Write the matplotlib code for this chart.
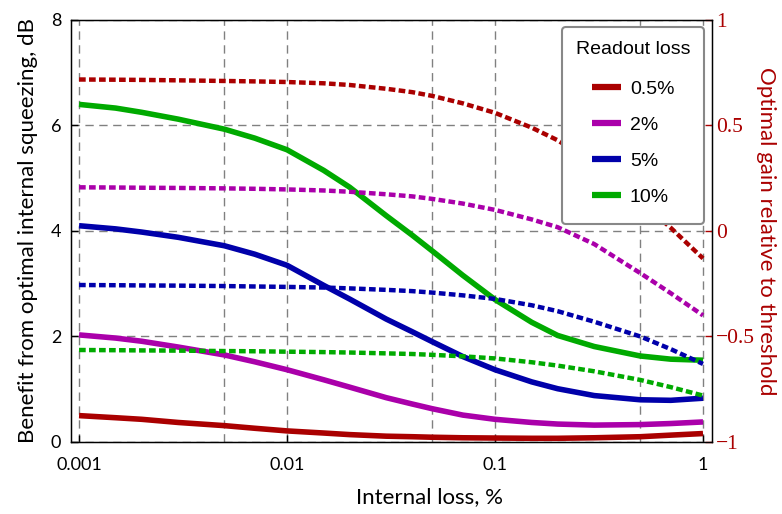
import matplotlib
matplotlib.use("Agg")
import matplotlib.pyplot as plt
from matplotlib.ticker import FixedLocator, NullFormatter, FixedFormatter

# internal loss, % (x axis, log scale)
loss = [0.001, 0.0015, 0.002, 0.003, 0.005, 0.007, 0.01, 0.015, 0.02, 0.03,
        0.04, 0.05, 0.07, 0.1, 0.15, 0.2, 0.3, 0.5, 0.7, 1.0]

# benefit from optimal internal squeezing, dB (left axis, solid)
benefit_05 = [0.50, 0.46, 0.43, 0.37, 0.31, 0.26, 0.21, 0.17, 0.14, 0.11,
              0.10, 0.09, 0.08, 0.075, 0.07, 0.07, 0.08, 0.10, 0.13, 0.16]
benefit_2 = [2.03, 1.97, 1.91, 1.80, 1.65, 1.52, 1.37, 1.18, 1.04, 0.84,
             0.72, 0.63, 0.51, 0.43, 0.37, 0.34, 0.32, 0.33, 0.35, 0.38]
benefit_5 = [4.10, 4.04, 3.98, 3.88, 3.72, 3.56, 3.35, 2.97, 2.71, 2.33,
             2.09, 1.90, 1.62, 1.37, 1.14, 1.01, 0.88, 0.80, 0.79, 0.83]
benefit_10 = [6.40, 6.33, 6.25, 6.12, 5.93, 5.76, 5.54, 5.15, 4.83, 4.29,
              3.92, 3.62, 3.16, 2.70, 2.27, 2.02, 1.81, 1.63, 1.57, 1.55]

# optimal gain relative to threshold (right axis, dashed)
gain_05 = [0.718, 0.717, 0.716, 0.714, 0.711, 0.709, 0.706, 0.700, 0.692, 0.674,
           0.658, 0.640, 0.605, 0.560, 0.490, 0.430, 0.320, 0.140, 0.015, -0.130]
gain_2 = [0.207, 0.206, 0.205, 0.204, 0.202, 0.200, 0.197, 0.192, 0.186, 0.174,
          0.164, 0.152, 0.130, 0.100, 0.055, 0.018, -0.062, -0.200, -0.295, -0.400]
gain_5 = [-0.256, -0.257, -0.258, -0.259, -0.261, -0.263, -0.265, -0.268, -0.272, -0.279,
          -0.285, -0.292, -0.305, -0.322, -0.352, -0.380, -0.430, -0.500, -0.560, -0.630]
gain_10 = [-0.564, -0.565, -0.566, -0.567, -0.569, -0.570, -0.572, -0.574, -0.576, -0.580,
           -0.583, -0.587, -0.594, -0.604, -0.622, -0.638, -0.665, -0.706, -0.740, -0.780]

readout = ['0.5%', '2%', '5%', '10%']
colors = ['#aa0000', '#aa00aa', '#0000aa', '#00aa00']
benefits = [benefit_05, benefit_2, benefit_5, benefit_10]
gains = [gain_05, gain_2, gain_5, gain_10]

sans = 'Lato'
red = '#aa0000'

fig = plt.figure(figsize=(7.82, 5.14), dpi=100)
ax = fig.add_axes([0.0908, 0.1401, 0.8197, 0.8210])
ax2 = ax.twinx()

handles = []
for b, c, lab in zip(benefits, colors, readout):
    h, = ax.plot(loss, b, color=c, lw=4.0, solid_capstyle='butt',
                 solid_joinstyle='round', label=lab)
    handles.append(h)
for g, c in zip(gains, colors):
    ax2.plot(loss, g, color=c, lw=3.2, dashes=(1.5, 0.75), dash_capstyle='butt')

ax.set_xscale('log')
ax.set_xlim(0.000915, 1.105)
ax.set_ylim(0, 8)
ax2.set_ylim(-1, 1)

ax.xaxis.set_major_locator(FixedLocator([0.001, 0.01, 0.1, 1]))
ax.xaxis.set_major_formatter(FixedFormatter(['0.001', '0.01', '0.1', '1']))
ax.xaxis.set_minor_locator(FixedLocator([0.005, 0.05, 0.5]))
ax.xaxis.set_minor_formatter(NullFormatter())
ax.set_yticks([0, 2, 4, 6, 8])
ax2.set_yticks([-1, -0.5, 0, 0.5, 1])
ax2.set_yticklabels(['\u22121', '\u22120.5', '0', '0.5', '1'])

ax.grid(True, which='both', axis='x', color='#808080', lw=1.0, dashes=(6, 4))
ax.grid(True, which='major', axis='y', color='#808080', lw=1.0, dashes=(6, 4))
ax.set_axisbelow(True)

ax.tick_params(axis='x', which='major', direction='in', length=5, width=1,
               labelsize=13, pad=11, top=False)
ax.tick_params(axis='x', which='minor', length=0)
ax.tick_params(axis='y', direction='in', length=5, width=1, labelsize=13, pad=7)
ax2.tick_params(axis='y', direction='in', length=5, width=1, color=red,
                labelcolor=red, labelsize=15.5, pad=3)
for t in ax.get_xticklabels() + ax.get_yticklabels():
    t.set_family(sans)
for t in ax2.get_yticklabels():
    t.set_family('Liberation Serif')

ax.set_xlabel('Internal loss, %', fontsize=16, family=sans)
ax.xaxis.set_label_coords(0.559, -0.107)
ax.set_ylabel('Benefit from optimal internal squeezing, dB', fontsize=16,
              family=sans, labelpad=9)
ax2.set_ylabel('Optimal gain relative to threshold', fontsize=16, family=sans,
               color=red, rotation=270, labelpad=15)

for s in ax.spines.values():
    s.set_linewidth(1.0)

leg = ax2.legend(handles=handles, title='Readout loss', loc='upper right',
                 bbox_to_anchor=(0.9875, 0.983), fancybox=True, framealpha=1,
                 edgecolor='#888888', prop={'family': 'Liberation Sans', 'size': 14},
                 title_fontproperties={'family': 'Liberation Sans', 'size': 14},
                 handlelength=1.5, handletextpad=0.45, labelspacing=0.95,
                 borderpad=0.7, borderaxespad=0)
leg.get_frame().set_linewidth(1.5)
leg._legend_box.align = 'center'
leg._legend_handle_box.pad = 3
for h in leg.legend_handles:
    h.set_linewidth(4.5)

fig.savefig('out.png', dpi=100)
